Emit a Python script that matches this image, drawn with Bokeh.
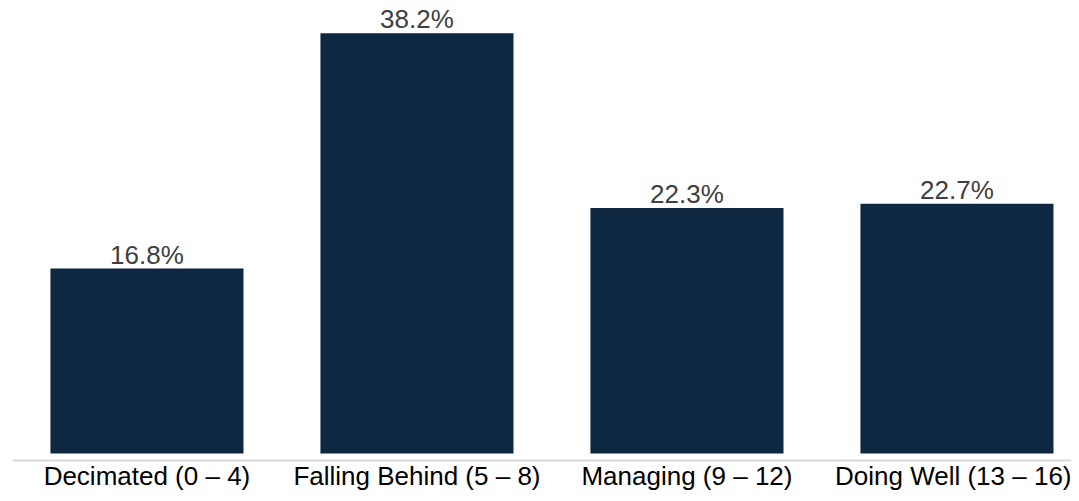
from bokeh.plotting import figure
from bokeh.models import Range1d, ColumnDataSource, FixedTicker, LabelSet
from bokeh.core.properties import value
from bokeh.embed import file_html
from bokeh.resources import INLINE

categories = ["Decimated (0 – 4)", "Falling Behind (5 – 8)", "Managing (9 – 12)", "Doing Well (13 – 16)"]
values = [16.8, 38.2, 22.3, 22.7]
labels = ["16.8%", "38.2%", "22.3%", "22.7%"]

xs = list(range(len(categories)))
src = ColumnDataSource(dict(x=xs, top=values, lab=labels))

xmin = -0.498
px_per_unit = 10.98
p = figure(width=1071, height=493, output_backend="svg", toolbar_location=None,
           x_range=Range1d(xmin, xmin + 1059 / 270),
           y_range=Range1d(-7 / px_per_unit, 452 / px_per_unit),
           min_border_left=12, min_border_right=0, min_border_top=0, min_border_bottom=28)
p.outline_line_color = None
p.background_fill_color = "white"
p.border_fill_color = "white"
p.grid.visible = False
p.yaxis.visible = False

p.vbar(x="x", top="top", bottom=0, width=0.715, source=src, fill_color="#0E2841", line_color=None)

ls = LabelSet(x="x", y="top", text="lab", source=src, text_align="center", text_baseline="alphabetic",
              y_offset=5, text_font=value("Liberation Sans"), text_font_size="26px", text_color="#404040")
p.add_layout(ls)

ax = p.xaxis[0]
ax.ticker = FixedTicker(ticks=xs)
ax.major_label_overrides = {i: c for i, c in enumerate(categories)}
ax.major_tick_line_color = None
ax.major_tick_out = 0
ax.major_tick_in = 0
ax.minor_tick_line_color = None
ax.axis_line_color = "#D9D9D9"
ax.axis_line_width = 2
ax.major_label_text_font = "Liberation Sans"
ax.major_label_text_font_size = "26px"
ax.major_label_text_color = "#000000"
ax.major_label_standoff = 0

open("out.html", "w").write(file_html(p, INLINE))
